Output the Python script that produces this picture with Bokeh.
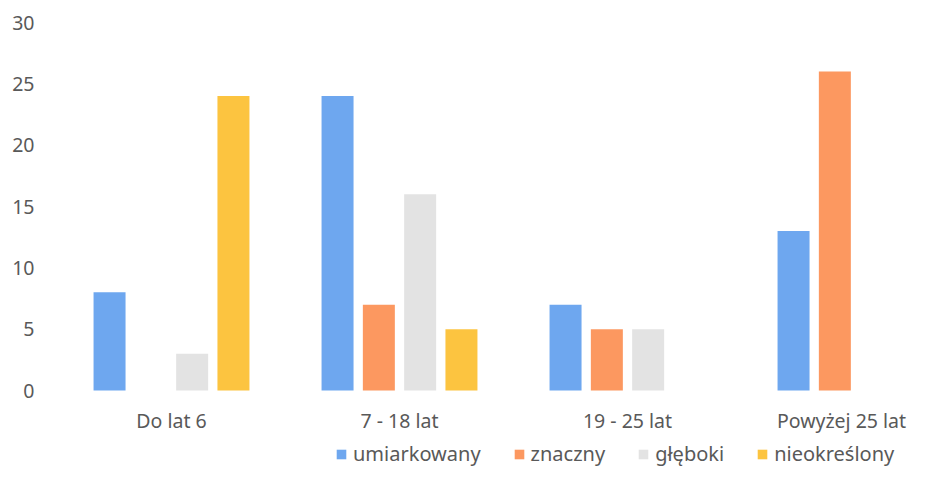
from bokeh.plotting import figure
from bokeh.models import ColumnDataSource, Range1d, FixedTicker, Legend, LegendItem
from bokeh.transform import dodge
from bokeh.core.properties import value
from bokeh.embed import file_html
from bokeh.resources import INLINE

categories = ["Do lat 6", "7 - 18 lat", "19 - 25 lat", "Powyżej 25 lat"]
series_names = ["umiarkowany", "znaczny", "głęboki", "nieokreślony"]
umiarkowany = [8, 24, 7, 13]
znaczny = [0, 7, 5, 26]
gleboki = [3, 16, 5, 0]
nieokreslony = [24, 5, 0, 0]
y_ticks = [0, 5, 10, 15, 20, 25, 30]

colors = ["#6EA7EF", "#FC9860", "#E3E3E3", "#FCC440"]
values = [umiarkowany, znaczny, gleboki, nieokreslony]

FONT = "Noto Sans"
TXT = "#595959"

# layout (pixels)
W, H = 909, 467
left, top = 57, 22
zero_px = 390
group_px = 228.0
first_center = 171
ppu = (zero_px - top) / 30.0  # pixels per y unit

x_start = (left - first_center) / group_px
x_end = (W - first_center) / group_px
y_start = -(H - zero_px) / ppu

p = figure(width=W, height=H, output_backend="svg", toolbar_location=None,
           x_range=Range1d(x_start, x_end), y_range=Range1d(y_start, 30),
           min_border_left=left, min_border_right=0, min_border_top=top, min_border_bottom=0)
p.outline_line_color = None
p.xgrid.grid_line_color = None
p.ygrid.grid_line_color = None
p.background_fill_color = "white"
p.border_fill_color = "white"
p.xaxis.visible = False

# last label is nudged left so it stays inside the page
label_shift = [0, 0, 0, -14]
src = ColumnDataSource(dict(idx=list(range(len(categories))), cat=categories,
                            zero=[0] * len(categories), shift=label_shift,
                            **{f"s{j}": v for j, v in enumerate(values)}))

step = 41.3 / group_px
bw = 32.0 / group_px
items = []
for j, name in enumerate(series_names):
    r = p.vbar(x=dodge("idx", (j - 1.5) * step, range=p.x_range), top=f"s{j}", bottom=0,
               width=bw, source=src, fill_color=colors[j], line_color=None)
    items.append(LegendItem(label=name, renderers=[r]))

# category labels under the groups
p.text(x="idx", y="zero", text="cat", source=src, y_offset=30, x_offset="shift",
       text_align="center", text_baseline="middle",
       text_font=value(FONT), text_font_size="19.5px", text_color=TXT)

p.yaxis.ticker = FixedTicker(ticks=y_ticks)
ax = p.yaxis[0]
ax.axis_line_color = None
ax.major_tick_line_color = None
ax.minor_tick_line_color = None
ax.major_label_text_font = FONT
ax.major_label_text_font_size = "19.5px"
ax.major_label_text_color = TXT
ax.major_label_standoff = 17

legend = Legend(items=items, orientation="horizontal", location=(278, 0),
                glyph_width=12, glyph_height=12, label_standoff=6, spacing=32,
                padding=0, margin=0, label_text_font=FONT, label_text_font_size="20px",
                label_text_color=TXT, background_fill_alpha=0, border_line_alpha=0)
p.add_layout(legend, "center")

open("out.html", "w").write(file_html(p, INLINE))
